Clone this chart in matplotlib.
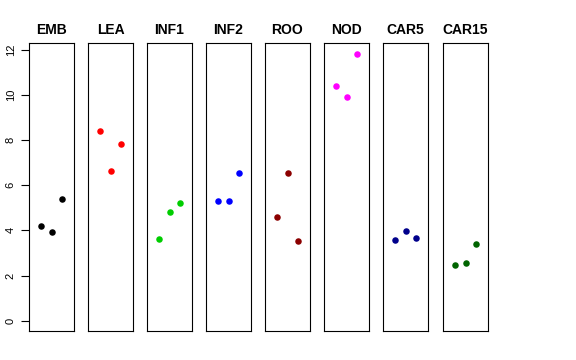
import numpy as np
import matplotlib
matplotlib.use("Agg")
import matplotlib.pyplot as plt

plt.rcParams['font.family'] = ['Liberation Sans', 'DejaVu Sans']

# tissues and the three replicate values for each
tissues = ["EMB", "LEA", "INF1", "INF2", "ROO", "NOD", "CAR5", "CAR15"]
emb = [4.21, 3.92, 5.39]
lea = [8.40, 6.62, 7.85]
inf1 = [3.63, 4.83, 5.20]
inf2 = [5.32, 5.32, 6.56]
roo = [4.60, 6.53, 3.55]
nod = [10.40, 9.93, 11.84]
car5 = [3.59, 3.96, 3.67]
car15 = [2.46, 2.54, 3.40]
values = [emb, lea, inf1, inf2, roo, nod, car5, car15]
colors = ["black", "red", "#00CD00", "blue", "#8B0000", "magenta", "#00008B", "#006400"]
yticks = [0, 2, 4, 6, 8, 10, 12]

W, H = 576, 360
fig = plt.figure(figsize=(W / 100, H / 100), dpi=100)

lefts = [29, 88, 147, 206, 265, 324, 383, 443]
pw = 45
top, bot = 43, 331

for i, (name, vals, col) in enumerate(zip(tissues, values, colors)):
    ax = fig.add_axes([lefts[i] / W, (H - bot) / H, pw / W, (bot - top) / H])
    ax.scatter(np.arange(1, 4), vals, s=22, color=col, zorder=3, linewidths=0)
    ax.set_xlim(-0.15, 4.15)
    ax.set_ylim(-0.46, 12.31)
    ax.set_xticks([])
    ax.set_title(name, fontsize=10, fontweight='bold', pad=6.5)
    for sp in ax.spines.values():
        sp.set_linewidth(0.8)
    if i == 0:
        ax.set_yticks(yticks)
        ax.tick_params(axis='y', length=5.5, width=0.8, labelsize=8, pad=4)
        for lb in ax.get_yticklabels():
            lb.set_rotation(90)
            lb.set_va('center')
    else:
        ax.set_yticks([])

fig.savefig("out.png", dpi=100)
